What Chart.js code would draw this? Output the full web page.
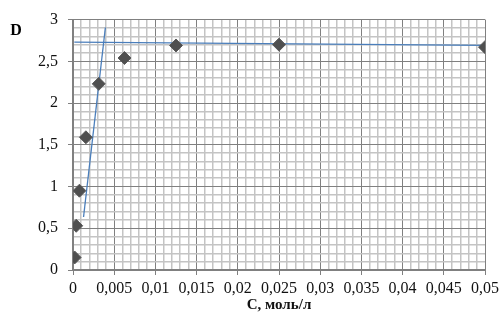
<!DOCTYPE html>
<html>
<head>
<meta charset="utf-8">
<script src="https://cdn.jsdelivr.net/npm/chart.js@4.4.1/dist/chart.umd.min.js"></script>
<style>
  html, body { margin: 0; padding: 0; background: #fff; }
  #wrap { width: 503px; height: 321px; }
</style>
</head>
<body>
<div id="wrap"><canvas id="absChart"></canvas></div>
<script>
// concentrations, mol/l (two-fold dilutions)
const concentrations = [0.000195, 0.00039, 0.00078, 0.0015625, 0.003125, 0.00625, 0.0125, 0.025, 0.05];
const absorbance = [0.15, 0.53, 0.95, 1.59, 2.23, 2.54, 2.69, 2.70, 2.67];

// hand-drawn trend lines
const riseX = [0.00128, 0.00393];
const riseY = [0.635, 2.905];
const plateauX = [0.00016, 0.05];
const plateauY = [2.73, 2.69];

const serif = '"Liberation Serif", "Times New Roman", serif';

function toPoints(xs, ys) {
  return xs.map((x, i) => ({ x: x, y: ys[i] }));
}

function isMajorX(v) { return Math.round(v * 1000) % 5 === 0; }
function isMajorY(v) { return Math.round(v * 10) % 5 === 0; }
function fmt(v, digits) {
  const r = Math.round(v * digits) / digits;
  return String(r).replace('.', ',');
}

const yLetter = {
  id: 'yLetter',
  afterDraw(chart) {
    const ctx = chart.ctx;
    ctx.save();
    ctx.font = 'bold 16px ' + serif;
    ctx.fillStyle = '#000';
    ctx.textAlign = 'center';
    ctx.textBaseline = 'middle';
    ctx.fillText('D', 16, 31);
    ctx.restore();
  }
};

const ctx = document.getElementById('absChart');

new Chart(ctx, {
  type: 'scatter',
  data: {
    datasets: [
      {
        data: toPoints(concentrations, absorbance),
        pointStyle: 'rectRot',
        pointRadius: 6.5,
        backgroundColor: '#4f4f4f',
        borderColor: '#5a5a5a',
        borderWidth: 1,
        order: 1
      },
      {
        data: toPoints(riseX, riseY),
        showLine: true,
        pointRadius: 0,
        borderColor: '#4a7ebb',
        borderWidth: 1.3,
        order: 2
      },
      {
        data: toPoints(plateauX, plateauY),
        showLine: true,
        pointRadius: 0,
        borderColor: '#4a7ebb',
        borderWidth: 1.3,
        order: 2
      }
    ]
  },
  options: {
    responsive: true,
    maintainAspectRatio: false,
    animation: false,
    layout: { padding: { left: 0, right: 16, top: 18, bottom: 0 } },
    plugins: {
      legend: { display: false },
      tooltip: { enabled: false }
    },
    scales: {
      x: {
        type: 'linear',
        min: 0,
        max: 0.05,
        afterFit: (axis) => { axis.height = 51; },
        border: { color: '#808080', width: 2 },
        grid: {
          color: c => isMajorX(c.tick.value) ? '#808080' : '#c4c4c4',
          lineWidth: c => isMajorX(c.tick.value) ? 1 : 1.5,
          tickColor: c => isMajorX(c.tick.value) ? '#808080' : 'rgba(0,0,0,0)',
          tickLength: 5
        },
        ticks: {
          stepSize: 0.001,
          maxTicksLimit: 100,
          autoSkip: false,
          maxRotation: 0,
          padding: 4,
          color: '#111',
          font: { family: serif, size: 16 },
          callback: v => isMajorX(v) ? fmt(v, 1000) : ''
        },
        title: {
          display: true,
          text: 'C, моль/л',
          color: '#111',
          font: { family: serif, size: 15, weight: 'bold' },
          padding: { top: 0, bottom: 7 }
        }
      },
      y: {
        type: 'linear',
        min: 0,
        max: 3,
        afterFit: (axis) => { axis.width = 73; },
        border: { color: '#808080', width: 2 },
        grid: {
          color: c => isMajorY(c.tick.value) ? '#808080' : '#c4c4c4',
          lineWidth: c => isMajorY(c.tick.value) ? 1 : 1.5,
          tickColor: c => isMajorY(c.tick.value) ? '#808080' : 'rgba(0,0,0,0)',
          tickLength: 5
        },
        ticks: {
          stepSize: 0.1,
          maxTicksLimit: 100,
          autoSkip: false,
          padding: 10,
          color: '#111',
          font: { family: serif, size: 16 },
          callback: v => isMajorY(v) ? fmt(v, 10) : ''
        }
      }
    }
  },
  plugins: [yLetter]
});
</script>
</body>
</html>
